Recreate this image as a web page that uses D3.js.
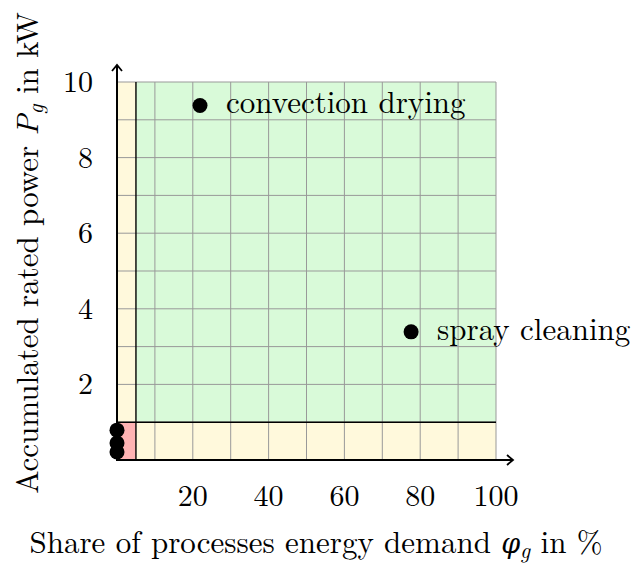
<!DOCTYPE html>
<meta charset="utf-8">
<script src="https://d3js.org/d3.v7.min.js"></script>
<style>
  body { margin: 0; background: #fff; }
  text { font-family: "Latin Modern Roman", "Liberation Serif", serif; fill: #000; }
</style>
<div id="my_dataviz"></div>

<script>
// Data
var processNames = ["convection drying", "spray cleaning", "", "", ""];
var shareValues  = [21.9, 77.6, 0, 0, 0];       // share of energy demand in %
var powerValues  = [9.38, 3.39, 0.79, 0.45, 0.21]; // accumulated rated power in kW
var xTicks = [20, 40, 60, 80, 100];
var yTicks = [2, 4, 6, 8, 10];
var xGrid = [10, 20, 30, 40, 50, 60, 70, 80, 90, 100];
var yGrid = [1, 2, 3, 4, 5, 6, 7, 8, 9, 10];
var shareLimit = 5;   // % threshold
var powerLimit = 1;   // kW threshold

var width = 631, height = 568;

var svg = d3.select("#my_dataviz")
  .append("svg")
    .attr("width", width)
    .attr("height", height);

var x = d3.scaleLinear().domain([0, 100]).range([117, 496]);
var y = d3.scaleLinear().domain([0, 10]).range([460, 82]);

// Coloured regions
svg.append("rect") // low share, any power
  .attr("x", x(0)).attr("y", y(10))
  .attr("width", x(shareLimit) - x(0)).attr("height", y(0) - y(10))
  .attr("fill", "#fff9dc");
svg.append("rect") // low power
  .attr("x", x(0)).attr("y", y(powerLimit))
  .attr("width", x(100) - x(0)).attr("height", y(0) - y(powerLimit))
  .attr("fill", "#fff9dc");
svg.append("rect") // relevant processes
  .attr("x", x(shareLimit)).attr("y", y(10))
  .attr("width", x(100) - x(shareLimit)).attr("height", y(powerLimit) - y(10))
  .attr("fill", "#d9fad9");
svg.append("rect") // irrelevant
  .attr("x", x(0)).attr("y", y(powerLimit))
  .attr("width", x(shareLimit) - x(0)).attr("height", y(0) - y(powerLimit))
  .attr("fill", "#ffb3b3");

// Grid
svg.append("g").selectAll("line")
  .data(xGrid).enter().append("line")
    .attr("x1", d => x(d)).attr("x2", d => x(d))
    .attr("y1", y(0)).attr("y2", y(10))
    .attr("stroke", "#999").attr("stroke-width", 1);
svg.append("g").selectAll("line")
  .data(yGrid).enter().append("line")
    .attr("x1", x(0)).attr("x2", x(100))
    .attr("y1", d => y(d)).attr("y2", d => y(d))
    .attr("stroke", "#999").attr("stroke-width", 1);

// Threshold lines
svg.append("line")
  .attr("x1", x(shareLimit)).attr("x2", x(shareLimit))
  .attr("y1", y(0)).attr("y2", y(10))
  .attr("stroke", "#000").attr("stroke-width", 1.4);
svg.append("line")
  .attr("x1", x(0)).attr("x2", x(100))
  .attr("y1", y(powerLimit)).attr("y2", y(powerLimit))
  .attr("stroke", "#000").attr("stroke-width", 1.4);

// Axes with arrows
svg.append("defs").append("marker")
    .attr("id", "arrow")
    .attr("viewBox", "-8 -6 10 12")
    .attr("refX", 0).attr("refY", 0)
    .attr("markerWidth", 10).attr("markerHeight", 12)
    .attr("markerUnits", "userSpaceOnUse")
    .attr("orient", "auto")
  .append("path")
    .attr("d", "M-6,-5 L0,0 L-6,5")
    .attr("fill", "none").attr("stroke", "#000").attr("stroke-width", 1.8);

svg.append("line")
  .attr("x1", x(0) - 1).attr("x2", x(100) + 17)
  .attr("y1", y(0)).attr("y2", y(0))
  .attr("stroke", "#000").attr("stroke-width", 2)
  .attr("marker-end", "url(#arrow)");
svg.append("line")
  .attr("x1", x(0)).attr("x2", x(0))
  .attr("y1", y(0) + 1).attr("y2", y(10) - 17)
  .attr("stroke", "#000").attr("stroke-width", 2)
  .attr("marker-end", "url(#arrow)");

// Tick labels
svg.append("g").selectAll("text")
  .data(xTicks).enter().append("text")
    .attr("x", d => x(d)).attr("y", 506)
    .attr("text-anchor", "middle")
    .style("font-size", "30px")
    .text(d => d);
svg.append("g").selectAll("text")
  .data(yTicks).enter().append("text")
    .attr("x", 93).attr("y", d => y(d) + 10)
    .attr("text-anchor", "end")
    .style("font-size", "30px")
    .text(d => d);

// Points
svg.append("g").selectAll("circle")
  .data(shareValues).enter().append("circle")
    .attr("cx", d => x(d))
    .attr("cy", (d, i) => y(powerValues[i]))
    .attr("r", 7.5)
    .attr("fill", "#000");

svg.append("g").selectAll("text")
  .data(processNames).enter().append("text")
    .attr("x", (d, i) => x(shareValues[i]) + 26)
    .attr("y", (d, i) => y(powerValues[i]) + 8)
    .style("font-size", "31px")
    .text(d => d);

// Axis labels
var xl = svg.append("text")
  .attr("x", 316).attr("y", 553)
  .attr("text-anchor", "middle")
  .style("font-size", "31px");
xl.append("tspan").text("Share of processes energy demand ");
xl.append("tspan")
  .style("font-family", "'DejaVu Serif'").style("font-style", "italic")
  .style("font-size", "27px").text("φ");
xl.append("tspan").attr("dy", 5).style("font-size", "22px").style("font-style", "italic").text("g");
xl.append("tspan").attr("dy", -5).text(" in %");

var yl = svg.append("text")
  .attr("transform", "translate(38,253) rotate(-90)")
  .attr("text-anchor", "middle")
  .style("font-size", "31px");
yl.append("tspan").text("Accumulated rated power ");
yl.append("tspan").style("font-style", "italic").text("P");
yl.append("tspan").attr("dy", 5).style("font-size", "22px").style("font-style", "italic").text("g");
yl.append("tspan").attr("dy", -5).text(" in kW");
</script>
